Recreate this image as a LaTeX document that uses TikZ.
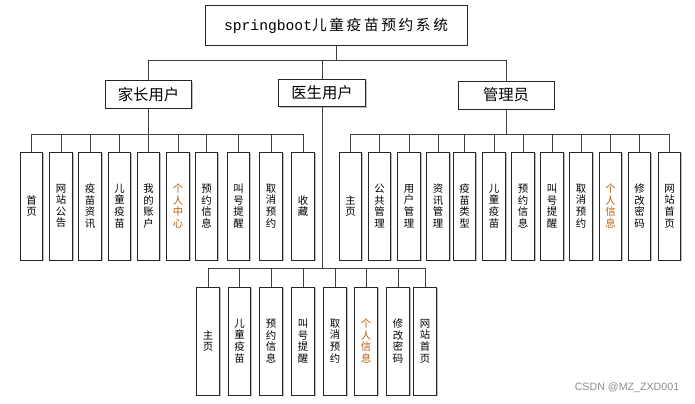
\documentclass[tikz,border=0pt]{standalone}
\usepackage{fontspec}
\setmainfont{Noto Sans CJK SC}
\newfontfamily\monofont{Liberation Mono}
\newfontfamily\markfont{Liberation Sans}
\usetikzlibrary{shadows}
\definecolor{hltext}{RGB}{185,95,15}
\tikzset{
  box/.style={draw=black!85, line width=0.75pt, fill=white,
    drop shadow={shadow xshift=0.9pt, shadow yshift=-0.9pt, fill=black!25, opacity=1}},
  rolebox/.style={box, minimum width=65pt, minimum height=20.5pt, inner sep=0pt,
    font=\fontsize{11.5}{13}\selectfont},
  leaf/.style={box, minimum width=17pt, minimum height=81pt, inner sep=0pt,
    align=center, font=\fontsize{7.8}{8.7}\selectfont},
  conn/.style={draw=black!75, line width=0.75pt}
}
\begin{document}
\begin{tikzpicture}[x=0.75pt, y=-0.75pt]
  \useasboundingbox (0,0) rectangle (695,403);
  % 画顶层
  \node[box, minimum width=196.5pt, minimum height=29.5pt, inner sep=0pt,
    font=\fontsize{11}{13}\selectfont] (title) at (336,25.5)
    {{\monofont springboot}{\addfontfeature{LetterSpace=18}儿童疫苗预约系统}};
  \node[rolebox] (family) at (148.5,94.5) {家长用户};
  \node[rolebox] (doctor) at (322,93) {医生用户};
  \node[rolebox, minimum width=72pt, minimum height=21pt] (admin) at (506,95) {管理员};
  % 画功能模块
  \foreach \i/\x/\c/\t in {1/31.5/black/{首\\页}, 2/61/black/{网\\站\\公\\告},
      3/90/black/{疫\\苗\\资\\讯}, 4/119.5/black/{儿\\童\\疫\\苗},
      5/148.5/black/{我\\的\\账\\户}, 6/178/hltext/{个\\人\\中\\心},
      7/206.5/black/{预\\约\\信\\息}, 8/238.5/black/{叫\\号\\提\\醒},
      9/271/black/{取\\消\\预\\约}, 10/303/black/{收\\藏}} {
    \node[leaf, text=\c] (f\i) at (\x,206) {\t};
  }
  \foreach \i/\x/\c/\t in {1/350.5/black/{主\\页}, 2/379.5/black/{公\\共\\管\\理},
      3/409/black/{用\\户\\管\\理}, 4/438/black/{资\\讯\\管\\理},
      5/464.5/black/{疫\\苗\\类\\型}, 6/494/black/{儿\\童\\疫\\苗},
      7/523/black/{预\\约\\信\\息}, 8/552/black/{叫\\号\\提\\醒},
      9/581/black/{取\\消\\预\\约}, 10/610.5/hltext/{个\\人\\信\\息},
      11/639.5/black/{修\\改\\密\\码}, 12/669.5/black/{网\\站\\首\\页}} {
    \node[leaf, text=\c] (a\i) at (\x,206) {\t};
  }
  \foreach \i/\x/\c/\t in {1/208/black/{主\\页}, 2/239.5/black/{儿\\童\\疫\\苗},
      3/271/black/{预\\约\\信\\息}, 4/303/black/{叫\\号\\提\\醒},
      5/335/black/{取\\消\\预\\约}, 6/366/hltext/{个\\人\\信\\息},
      7/398/black/{修\\改\\密\\码}, 8/425/black/{网\\站\\首\\页}} {
    \node[leaf, text=\c] (d\i) at (\x,341) {\t};
  }
  % 画连线
  \coordinate (tbus) at (336,61);
  \coordinate (fbus) at (148.5,134);
  \coordinate (abus) at (506,134);
  \coordinate (dbus) at (322,268);
  \draw[conn] (title.south) -- (tbus);
  \foreach \n in {family,doctor,admin}
    \draw[conn] (\n.north) |- (tbus);
  \draw[conn] (family.south) -- (fbus);
  \foreach \i in {1,...,10}
    \draw[conn] (f\i.north) |- (fbus);
  \draw[conn] (admin.south) -- (abus);
  \foreach \i in {1,...,12}
    \draw[conn] (a\i.north) |- (abus);
  \draw[conn] (doctor.south) -- (dbus);
  \foreach \i in {1,...,8}
    \draw[conn] (d\i.north) |- (dbus);
  % 水印
  \node[text=black!45, font=\markfont\fontsize{8}{9}\selectfont] (mark) at (627,388) {CSDN @MZ\_ZXD001};
\end{tikzpicture}
\end{document}
